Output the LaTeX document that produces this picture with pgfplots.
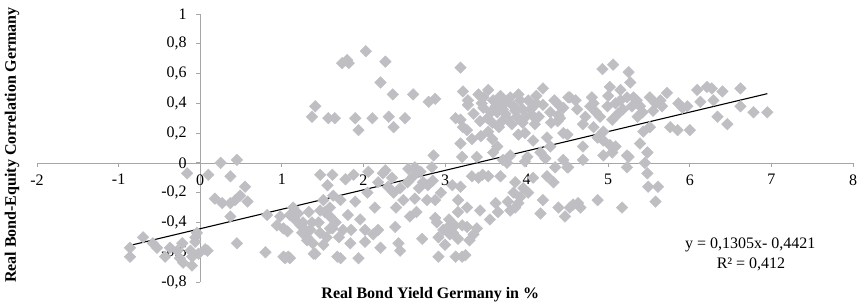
\documentclass[border=0pt]{standalone}
\usepackage{fontspec}
\setmainfont{Liberation Serif}
\usepackage{pgfplots}
\pgfplotsset{compat=1.18}
\definecolor{markgray}{RGB}{191,191,195}
\definecolor{axgray}{RGB}{166,166,166}
\begin{document}
\begin{tikzpicture}[font=\fontsize{16}{19}\selectfont]
\begin{axis}[
  scale only axis, width=816pt, height=268pt,
  xmin=-2, xmax=8, ymin=-0.8, ymax=1,
  axis lines=middle, axis line style={axgray,-},
  xtick={-2,-1,0,1,2,3,4,5,6,7,8},
  xticklabels={-2,-1,0,1,2,3,4,5,6,7,8},
  ytick={-0.8,-0.6,-0.4,-0.2,0,0.2,0.4,0.6,0.8,1},
  yticklabels={{-0,8},{-0,6},{-0,4},{-0,2},0,{0,2},{0,4},{0,6},{0,8},1},
  hide obscured x ticks=false, hide obscured y ticks=false,
  tick style={axgray, line width=0.8pt}, major tick length=4pt, tick align=outside,
  x tick label style={yshift=-4pt},
  y tick label style={xshift=-6pt},
  every axis x label/.style={at={(axis description cs:0.482,-0.049)},anchor=center},
  every axis y label/.style={at={(axis description cs:-0.0306,0.511)},anchor=center,rotate=90},
  xlabel={\textbf{Real Bond Yield Germany in \%}},
  ylabel={\textbf{Real Bond-Equity Correlation Germany}},
  clip=false,
]
\addplot[only marks, mark=square*, mark size=4.1pt, mark options={rotate=45, draw=markgray, fill=markgray}] coordinates {
(-0.86,-0.57) (-0.86,-0.63) (-0.70,-0.50) (-0.58,-0.54) (-0.53,-0.57) (-0.43,-0.63)
(-0.37,-0.57) (-0.28,-0.59) (-0.25,-0.64) (-0.21,-0.67) (-0.12,-0.59) (-0.10,-0.63)
(-0.06,-0.50) (-0.04,-0.47) (-0.16,-0.07) (-0.02,-0.61) (-0.22,-0.54) (-0.10,-0.69)
(0.06,-0.58) (0.09,-0.59) (-0.06,-0.53)
(0.10,-0.08) (0.25,0.00) (0.45,0.02) (0.37,-0.09) (0.18,-0.24) (0.27,-0.27)
(0.37,-0.27) (0.37,-0.36) (0.49,-0.22) (0.55,-0.16) (0.58,-0.26) (0.45,-0.54)
(0.43,-0.25) (0.82,-0.35) (0.80,-0.60) (1.02,-0.63) (1.08,-0.63) (0.94,-0.42)
(1.02,-0.44) (1.07,-0.46) (1.10,-0.35) (1.14,-0.30) (1.16,-0.38) (1.23,-0.42)
(1.29,-0.45) (1.31,-0.50) (1.37,-0.40) (1.38,-0.54) (1.41,-0.61) (1.47,-0.08)
(1.56,-0.15) (1.51,-0.25) (1.53,-0.33) (1.59,-0.36) (1.62,-0.08) (1.63,-0.22)
(1.62,-0.44) (1.68,-0.63) (1.47,-0.47) (0.98,-0.36) (1.04,-0.64) (1.10,-0.64)
(1.26,-0.40) (1.35,-0.45) (1.31,-0.52) (1.39,-0.61) (1.47,-0.32) (1.59,-0.30)
(1.59,-0.44) (1.51,-0.55) (1.72,-0.64) (1.72,-0.25) (1.75,-0.45) (1.78,-0.11)
(1.81,-0.35) (1.84,-0.54) (1.90,-0.26) (1.94,-0.64) (1.96,-0.38) (1.88,-0.08)
(2.02,-0.45) (2.02,-0.53) (2.06,-0.06) (2.05,-0.20) (2.14,-0.30) (2.12,-0.48)
(2.18,-0.45) (2.21,-0.57) (2.18,-0.13) (2.24,-0.07) (2.27,-0.05) (2.30,-0.16)
(2.37,-0.20) (2.39,-0.43) (2.43,-0.54) (2.45,-0.59) (2.49,-0.25) (2.54,-0.13)
(2.57,-0.36) (2.61,-0.09) (2.63,-0.03) (2.63,-0.24) (2.65,-0.33) (2.72,-0.51)
(2.73,-0.13) (2.78,-0.25) (2.79,-0.15) (2.84,-0.03) (2.86,0.05) (2.88,-0.25)
(2.90,-0.40) (2.92,-0.63) (2.98,-0.45) (3.04,-0.43) (3.09,-0.15) (3.10,-0.47)
(3.13,-0.63) (3.16,-0.33) (3.21,-0.63) (3.25,-0.62) (3.21,-0.42) (3.19,-0.16)
(3.16,-0.25) (3.27,-0.43) (3.27,-0.30) (3.33,-0.09) (3.39,-0.44) (3.41,-0.10)
(3.43,-0.32) (3.46,-0.08) (3.55,-0.38) (3.53,-0.09) (3.62,-0.27) (3.68,-0.09)
(3.71,0.02) (3.76,0.00) (3.80,-0.32) (3.84,-0.20) (3.86,-0.13) (3.90,-0.27)
(3.92,-0.23) (3.96,-0.17) (3.98,0.01) (4.02,-0.20) (4.08,-0.10) (4.17,-0.34)
(4.20,-0.25) (4.25,-0.09) (4.23,0.03) (4.33,-0.13) (4.35,-0.03) (4.39,-0.30)
(4.45,0.02) (4.47,-0.36) (4.51,-0.03) (4.57,-0.28) (4.63,-0.27) (4.53,-0.30)
(4.66,-0.30) (4.87,-0.25) (5.17,-0.30) (5.58,-0.26) (5.49,-0.16) (5.61,-0.16)
(5.48,-0.07) (5.45,0.00) (5.48,0.07) (5.23,-0.03) (5.25,0.04) (4.94,0.05)
(5.05,0.07) (4.69,0.02) (4.50,-0.03)
(3.06,-0.48) (3.16,-0.51) (2.92,-0.50) (2.88,-0.37) (3.65,-0.33) (3.86,-0.30) (3.77,-0.26)
(1.20,-0.34) (1.33,-0.33) (1.45,-0.40) (1.66,-0.40) (1.70,-0.50) (1.55,-0.50) (1.85,-0.45) (1.25,-0.47)
(2.35,-0.10) (2.45,-0.17) (2.55,-0.04) (2.68,-0.17) (2.70,-0.06) (2.85,-0.12) (2.95,-0.20) (2.40,-0.30)
(3.05,-0.38) (3.12,-0.42) (3.30,-0.52) (3.00,-0.55) (3.35,-0.48)
(1.41,0.38) (1.37,0.31) (1.57,0.30) (1.65,0.30) (1.74,0.67) (1.80,0.69)
(1.82,0.67) (2.03,0.75) (2.27,0.68) (1.90,0.30) (1.94,0.22) (2.11,0.30)
(2.21,0.54) (2.36,0.46) (2.31,0.31) (2.37,0.24) (2.51,0.30) (2.61,0.46)
(2.80,0.41) (2.88,0.43) (3.19,0.64) (3.22,0.48) (3.28,0.42)
(3.28,0.39) (3.19,0.29) (3.22,0.24) (3.27,0.22) (3.19,0.13) (3.21,0.04)
(3.39,0.04) (3.41,0.46) (3.47,0.44) (3.53,0.49) (3.47,0.37) (3.52,0.30)
(3.53,0.21) (3.64,0.11) (3.59,0.07) (3.59,0.42) (3.68,0.40) (3.64,0.34)
(3.71,0.36) (3.80,0.44) (3.76,0.30) (3.84,0.38) (3.88,0.31) (3.92,0.42)
(3.95,0.36) (4.02,0.42) (4.07,0.32) (4.20,0.50) (4.20,0.39) (4.29,0.34)
(4.39,0.32) (4.41,0.38) (4.38,0.28) (4.51,0.44) (4.60,0.42) (3.90,0.19)
(3.98,0.20) (4.08,0.15) (4.25,0.17) (4.45,0.20) (4.29,0.11) (4.17,0.07)
(4.01,0.04) (3.80,0.05) (3.13,0.30)
(3.62,0.38) (3.75,0.41) (3.86,0.35) (4.12,0.40) (3.70,0.28) (3.95,0.27) (4.10,0.26) (3.56,0.34) (3.66,0.24)
(3.35,0.33) (3.43,0.28) (3.58,0.27) (3.74,0.33) (3.82,0.26) (3.99,0.31) (4.05,0.36) (4.15,0.31) (4.30,0.27)
(3.45,0.40) (3.68,0.45) (3.90,0.46) (4.12,0.45) (4.34,0.42) (3.33,0.16) (3.44,0.18) (3.58,0.16)
(4.93,0.63) (5.06,0.66) (5.25,0.61) (5.27,0.54) (5.02,0.51) (5.15,0.49)
(4.53,0.44) (4.80,0.44) (4.78,0.38) (4.45,0.37) (4.41,0.30) (4.72,0.31)
(4.90,0.31) (4.99,0.38) (5.09,0.40) (5.15,0.42) (5.23,0.44) (5.31,0.44)
(5.18,0.36) (5.29,0.38) (5.39,0.38) (5.42,0.34) (5.51,0.44) (5.58,0.40)
(5.64,0.42) (5.72,0.47) (5.66,0.38) (5.86,0.40) (5.91,0.37) (5.97,0.38)
(6.09,0.49) (6.21,0.51) (6.27,0.50) (6.40,0.48) (6.62,0.50) (6.13,0.41)
(6.29,0.42) (6.62,0.38) (6.78,0.34) (6.95,0.34) (6.34,0.31) (6.46,0.26)
(6.00,0.22) (5.76,0.24) (5.85,0.22) (4.82,0.40) (4.69,0.26) (5.05,0.29)
(4.94,0.21) (4.82,0.24) (4.87,0.17) (4.94,0.15) (5.02,0.12) (5.09,0.11)
(5.23,0.05) (4.69,0.11) (4.50,0.19) (5.39,0.13) (5.48,0.07) (5.51,0.24)
(5.43,0.21) (5.36,0.31)
(4.85,0.34) (5.00,0.45) (5.12,0.33) (5.35,0.42) (5.55,0.35) (4.62,0.36)
};
\addplot[black, line width=1.1pt, no marks] coordinates {(-0.83,-0.5504) (6.95,0.4649)};
\node[anchor=center] at (axis cs:6.74,-0.552) {y = 0,1305x- 0,4421};
\node[anchor=center] at (axis cs:6.75,-0.680) {R² = 0,412};
\coordinate (bbl) at (rel axis cs:-0.04534,-0.0970);
\coordinate (btr) at (rel axis cs:1.01225,1.05224);
\end{axis}
\pgfresetboundingbox
\path[use as bounding box] (bbl) rectangle (btr);
\end{tikzpicture}
\end{document}
